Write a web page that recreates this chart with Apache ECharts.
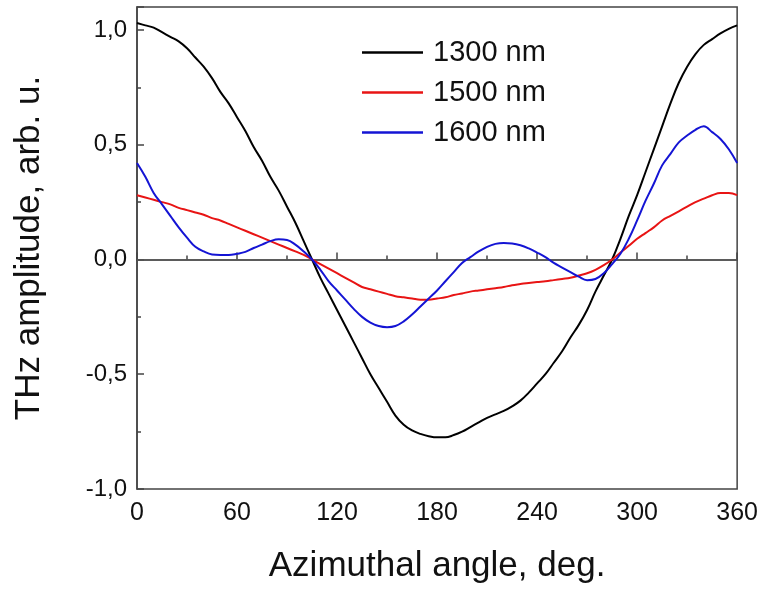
<!DOCTYPE html>
<html>
<head>
<meta charset="utf-8">
<script src="https://cdn.jsdelivr.net/npm/echarts@6/dist/echarts.min.js"></script>
<style>
  html, body { margin: 0; padding: 0; background: #ffffff; }
  #chart { width: 761px; height: 589px; }
</style>
</head>
<body>
<div id="chart"></div>
<script>
// Azimuthal angle of the sample, degrees
const angles = [
  0, 5, 10, 15, 20, 25, 30, 35, 40, 45, 50, 55, 60, 65, 70, 75, 80, 85, 90,
  95, 100, 105, 110, 115, 120, 125, 130, 135, 140, 145, 150, 155, 160, 165, 170, 175, 180,
  185, 190, 195, 200, 205, 210, 215, 220, 225, 230, 235, 240, 245, 250, 255, 260, 265, 270,
  275, 280, 285, 290, 295, 300, 305, 310, 315, 320, 325, 330, 335, 340, 345, 350, 355, 360
];

// THz amplitude (arb. u.) for each pump wavelength
const amp1300 = [
  1.03, 1.02, 1.01, 0.99, 0.97, 0.95, 0.92, 0.88, 0.84, 0.79, 0.73, 0.68, 0.62, 0.56, 0.49, 0.43, 0.36, 0.30, 0.23,
  0.16, 0.08, 0.00, -0.08, -0.15, -0.22, -0.29, -0.36, -0.43, -0.50, -0.56, -0.62, -0.68, -0.72, -0.745, -0.76, -0.77, -0.775,
  -0.775, -0.765, -0.75, -0.73, -0.71, -0.69, -0.675, -0.66, -0.64, -0.615, -0.58, -0.54, -0.50, -0.45, -0.40, -0.34, -0.285, -0.22,
  -0.14, -0.07, 0.00, 0.09, 0.19, 0.28, 0.38, 0.48, 0.58, 0.68, 0.77, 0.84, 0.895, 0.935, 0.96, 0.985, 1.005, 1.02
];
const amp1500 = [
  0.28, 0.27, 0.26, 0.25, 0.24, 0.225, 0.215, 0.205, 0.195, 0.18, 0.17, 0.155, 0.14, 0.125, 0.11, 0.095, 0.08, 0.065, 0.05,
  0.035, 0.02, 0.00, -0.02, -0.04, -0.06, -0.08, -0.10, -0.12, -0.13, -0.14, -0.15, -0.16, -0.165, -0.17, -0.175, -0.175, -0.17,
  -0.165, -0.155, -0.148, -0.14, -0.135, -0.13, -0.125, -0.12, -0.112, -0.107, -0.102, -0.098, -0.095, -0.09, -0.085, -0.08, -0.07, -0.06,
  -0.045, -0.025, 0.00, 0.03, 0.06, 0.09, 0.115, 0.14, 0.17, 0.19, 0.21, 0.23, 0.25, 0.265, 0.28, 0.29, 0.29, 0.28
];
const amp1600 = [
  0.42, 0.36, 0.29, 0.24, 0.19, 0.14, 0.095, 0.055, 0.035, 0.022, 0.02, 0.02, 0.025, 0.033, 0.05, 0.065, 0.08, 0.088, 0.085,
  0.065, 0.035, 0.00, -0.045, -0.095, -0.135, -0.175, -0.215, -0.25, -0.275, -0.29, -0.295, -0.29, -0.27, -0.24, -0.205, -0.17, -0.135,
  -0.095, -0.055, -0.015, 0.01, 0.035, 0.055, 0.068, 0.072, 0.07, 0.062, 0.048, 0.03, 0.01, -0.015, -0.035, -0.055, -0.075, -0.09,
  -0.085, -0.06, -0.02, 0.025, 0.09, 0.17, 0.255, 0.33, 0.41, 0.46, 0.51, 0.54, 0.565, 0.58, 0.555, 0.525, 0.48, 0.42
];

const seriesNames = ['1300 nm', '1500 nm', '1600 nm'];
const seriesColors = ['#000000', '#e81414', '#1414d4'];
const seriesValues = [amp1300, amp1500, amp1600];

const FONT = 'Liberation Sans, Arial, sans-serif';

const chart = echarts.init(document.getElementById('chart'), null, { renderer: 'canvas' });

const pairs = vals => angles.map((a, i) => [a, vals[i]]);

const series = seriesValues.map((vals, k) => ({
  name: seriesNames[k],
  type: 'line',
  data: pairs(vals),
  symbol: 'none',
  smooth: 0.4,
  lineStyle: { color: seriesColors[k], width: 2 },
  itemStyle: { color: seriesColors[k] },
  z: 3 + k
}));

// horizontal zero reference line
series[0].markLine = {
  silent: true,
  symbol: 'none',
  label: { show: false },
  lineStyle: { color: '#555555', width: 1.5, type: 'solid' },
  data: [{ yAxis: 0 }],
  z: 1
};

chart.setOption({
  animation: false,
  backgroundColor: '#ffffff',
  grid: {
    left: 137, right: 23, top: 7, bottom: 97,
    show: true, borderColor: '#444444', borderWidth: 1.5, backgroundColor: 'transparent'
  },
  legend: {
    orient: 'vertical',
    left: 362,
    top: 38,
    padding: 0,
    icon: 'rect',
    itemWidth: 61,
    itemHeight: 2.5,
    itemGap: 11,
    data: seriesNames,
    textStyle: { fontFamily: FONT, fontSize: 29, color: '#111111', padding: [0, 0, 0, 5] }
  },
  xAxis: {
    type: 'value',
    min: 0, max: 360, interval: 60,
    name: 'Azimuthal angle, deg.',
    nameLocation: 'middle',
    nameGap: 60,
    nameTextStyle: { fontFamily: FONT, fontSize: 35, color: '#111111' },
    axisLine: { show: true, lineStyle: { color: '#444444', width: 1.5 } },
    axisTick: { show: true, inside: true, length: 7, lineStyle: { color: '#444444', width: 1.5 } },
    minorTick: { show: true, splitNumber: 2, length: 4, lineStyle: { color: '#444444', width: 1.5 } },
    axisLabel: { fontFamily: FONT, fontSize: 25, color: '#111111', margin: 12 },
    splitLine: { show: false }
  },
  yAxis: [
    {
      type: 'value',
      min: -1, max: 1.1, interval: 0.5,
      name: 'THz amplitude, arb. u.',
      nameLocation: 'middle',
      nameGap: 90,
      nameTextStyle: { fontFamily: FONT, fontSize: 35, color: '#111111' },
      axisLine: { show: true, lineStyle: { color: '#444444', width: 1.5 } },
      axisTick: { show: true, inside: true, length: 7, lineStyle: { color: '#444444', width: 1.5 } },
      axisLabel: {
        fontFamily: FONT, fontSize: 24, color: '#111111', margin: 10,
        formatter: v => (Math.abs(v * 2 - Math.round(v * 2)) < 1e-6 ? v.toFixed(1).replace('.', ',') : '')
      },
      splitLine: { show: false }
    },
    {
      // short quarter-step ticks on the left axis
      type: 'value',
      position: 'left',
      min: -1, max: 1.1, interval: 0.25,
      axisLine: { show: false },
      axisTick: { show: true, inside: true, length: 4, lineStyle: { color: '#444444', width: 1.5 } },
      axisLabel: { show: false },
      splitLine: { show: false }
    }
  ],
  series: series
});
</script>
</body>
</html>
